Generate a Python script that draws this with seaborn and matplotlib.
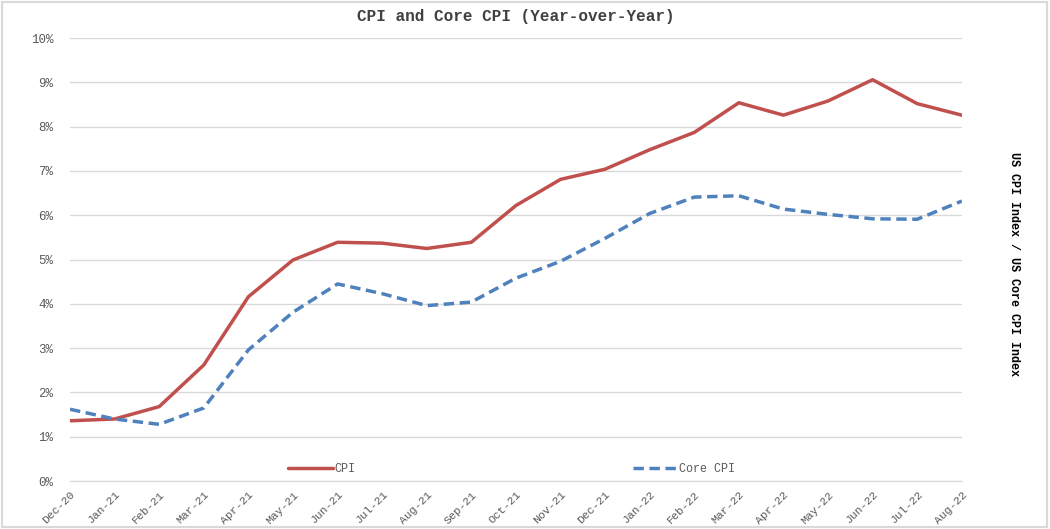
import pandas as pd
import seaborn as sns
import matplotlib.pyplot as plt
from matplotlib.ticker import FuncFormatter
from matplotlib.patches import Rectangle

# Month labels and year-over-year values (%)
months = ['Dec-20', 'Jan-21', 'Feb-21', 'Mar-21', 'Apr-21', 'May-21', 'Jun-21',
          'Jul-21', 'Aug-21', 'Sep-21', 'Oct-21', 'Nov-21', 'Dec-21', 'Jan-22',
          'Feb-22', 'Mar-22', 'Apr-22', 'May-22', 'Jun-22', 'Jul-22', 'Aug-22']
cpi = [1.36, 1.40, 1.68, 2.62, 4.16, 4.99, 5.39, 5.37, 5.25, 5.39, 6.22,
       6.81, 7.04, 7.48, 7.87, 8.54, 8.26, 8.58, 9.06, 8.52, 8.26]
core_cpi = [1.62, 1.40, 1.28, 1.65, 2.96, 3.81, 4.45, 4.23, 3.96, 4.04, 4.58,
            4.96, 5.48, 6.04, 6.41, 6.44, 6.14, 6.02, 5.92, 5.91, 6.32]

df = pd.DataFrame({'month': months, 'CPI': cpi, 'Core CPI': core_cpi})
df['pos'] = range(len(months))
long_df = df.melt(id_vars=['month', 'pos'], value_vars=['CPI', 'Core CPI'],
                  var_name='series', value_name='value')

sns.set_style('white')
plt.rcParams['font.family'] = ['Liberation Mono', 'DejaVu Sans Mono']

fig = plt.figure(figsize=(10.5, 5.29), dpi=100)
ax = fig.add_axes([0.0667, 0.0907, 0.8493, 0.8373])

sns.lineplot(data=long_df, x='pos', y='value', hue='series', style='series',
             palette={'CPI': '#C0504D', 'Core CPI': '#4F81BD'},
             dashes={'CPI': '', 'Core CPI': (3, 1.6)},
             linewidth=2.5, ax=ax)

ax.set_xlim(0, len(months) - 1)
ax.set_ylim(0, 10)
ax.set_yticks(range(0, 11))
ax.yaxis.set_major_formatter(FuncFormatter(lambda v, p: f'{int(v)}%'))
ax.set_xticks(df['pos'])
ax.set_xticklabels(months, rotation=45, ha='right', rotation_mode='anchor')
ax.tick_params(axis='x', labelsize=8.2, labelcolor='#595959', length=4,
               color='#D9D9D9', direction='out', pad=2)
ax.tick_params(axis='y', labelsize=9, labelcolor='#595959', length=0, pad=12)
ax.yaxis.grid(True, color='#D9D9D9', linewidth=1)
ax.set_axisbelow(True)
for side in ['top', 'right', 'left']:
    ax.spines[side].set_visible(False)
ax.spines['bottom'].set_color('#D9D9D9')
ax.set_xlabel('')
ax.set_ylabel('')

leg = ax.legend(loc='lower center', bbox_to_anchor=(0.495, -0.01), ncol=2,
                frameon=False, fontsize=8.5, columnspacing=23.5,
                handlelength=3.8, handletextpad=0.1)
for t in leg.get_texts():
    t.set_color('#595959')

ax.set_title('CPI and Core CPI (Year-over-Year)', fontsize=11.5,
             fontweight='bold', color='#404040', pad=12)

fig.text(0.966, 0.5, 'US CPI Index / US Core CPI Index', rotation=270,
         ha='center', va='center', fontsize=8.5, fontweight='bold',
         color='black')

fig.patches.append(Rectangle((0.002, 0.003), 0.995, 0.994,
                             transform=fig.transFigure, fill=False,
                             edgecolor='#D9D9D9', linewidth=1.5))

fig.savefig('out.png', dpi=100)
